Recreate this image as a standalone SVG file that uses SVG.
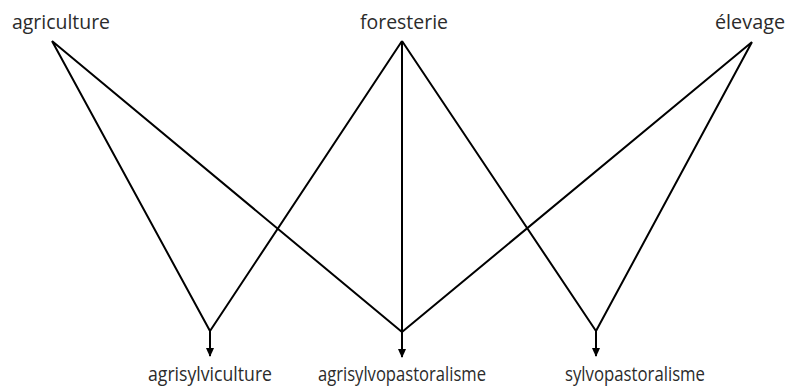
<svg xmlns="http://www.w3.org/2000/svg" width="788" height="387" viewBox="0 0 788 387">
<defs>
<style>
.lbl{font-family:"Open Sans","Liberation Sans",sans-serif;fill:#2b2b2b;text-anchor:middle;font-size:19.5px}
.ln{stroke:#000;stroke-width:2;fill:none}
</style>
<marker id="ah" markerWidth="10" markerHeight="10" refX="8" refY="5" orient="auto" markerUnits="userSpaceOnUse">
<path d="M0,1 L9,5 L0,9 Z" fill="#000"/>
</marker>
</defs>
<rect width="788" height="387" fill="#fff"/>
<g id="agriculture"><text class="lbl" x="61" y="29" textLength="98" lengthAdjust="spacingAndGlyphs">agriculture</text></g>
<g id="foresterie"><text class="lbl" x="404" y="29" textLength="88" lengthAdjust="spacingAndGlyphs">foresterie</text></g>
<g id="elevage"><text class="lbl" x="750" y="29" textLength="70" lengthAdjust="spacingAndGlyphs">élevage</text></g>
<g id="agrisylviculture"><text class="lbl" x="210" y="381" textLength="124" lengthAdjust="spacingAndGlyphs">agrisylviculture</text></g>
<g id="agrisylvopastoralisme"><text class="lbl" x="402" y="381" textLength="168" lengthAdjust="spacingAndGlyphs">agrisylvopastoralisme</text></g>
<g id="sylvopastoralisme"><text class="lbl" x="635" y="381" textLength="140" lengthAdjust="spacingAndGlyphs">sylvopastoralisme</text></g>
<g id="connectors">
<path class="ln" d="M52,41 L210,331 M52,41 L402,332"/>
<path class="ln" d="M402,41 L210,331 M402,41 L402,332 M402,41 L596,331"/>
<path class="ln" d="M752,42 L402,332 M752,42 L596,331"/>
<path class="ln" d="M210,331 L210,356" marker-end="url(#ah)"/>
<path class="ln" d="M402,332 L402,357" marker-end="url(#ah)"/>
<path class="ln" d="M596,331 L596,356" marker-end="url(#ah)"/>
</g>
</svg>
